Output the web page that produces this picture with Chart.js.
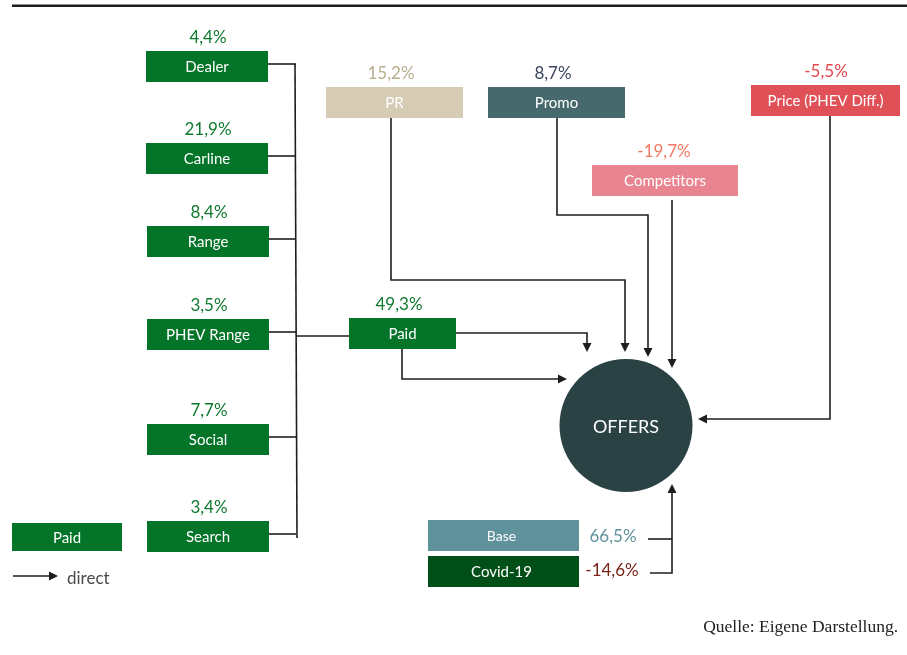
<!DOCTYPE html>
<html>
<head>
<meta charset="utf-8">
<script src="https://cdn.jsdelivr.net/npm/chart.js@4/dist/chart.umd.min.js"></script>
<style>
html,body{margin:0;padding:0;background:#fff;}
#wrap{width:907px;height:655px;position:relative;}
</style>
</head>
<body>
<div id="wrap"><canvas id="c" width="907" height="655"></canvas></div>
<script>
// ---- data ----
const channelNames = ['Dealer', 'Carline', 'Range', 'PHEV Range', 'Social', 'Search'];
const channelValues = [4.4, 21.9, 8.4, 3.5, 7.7, 3.4];
const driverNames = ['Paid', 'PR', 'Promo', 'Competitors', 'Price (PHEV Diff.)'];
const driverValues = [49.3, 15.2, 8.7, -19.7, -5.5];
const baseNames = ['Base', 'Covid-19'];
const baseValues = [66.5, -14.6];
const targetName = 'OFFERS';
const legendBoxLabel = 'Paid';
const legendArrowLabel = 'direct';
const sourceText = 'Quelle: Eigene Darstellung.';

// ---- layout (positions / sizes, in canvas units) ----
const channelBoxes = [
  {x: 146, y: 51}, {x: 146, y: 143}, {x: 147, y: 226},
  {x: 147, y: 319}, {x: 147, y: 424}, {x: 147, y: 521}
];
const channelW = 122, boxH = 31;
const driverBoxes = [
  {x: 349, y: 318, w: 107, lx: 399},
  {x: 326, y: 87, w: 137, lx: 391},
  {x: 488, y: 87, w: 137, lx: 553},
  {x: 592, y: 165, w: 146, lx: 664},
  {x: 751, y: 85, w: 149, lx: 826}
];
const baseBoxes = [{x: 428, y: 520, w: 151, vx: 613, vy: 537}, {x: 428, y: 556, w: 151, vx: 612, vy: 571}];
const circle = {x: 626, y: 425.5, r: 66.5};

// ---- styles ----
const GREEN = '#037428', GREEN_TXT = '#0f7a2f';
const driverFill = [GREEN, '#d6cbb5', '#45696d', '#e98590', '#e05057'];
const driverTxt = [GREEN_TXT, '#b8ad8c', '#3c475f', '#f07a62', '#e5464f'];
const baseFill = ['#5f929b', '#004f18'];
const baseTxt = ['#5f929b', '#7a2419'];
const LINE = '#1e1e1e';
const FONT = 'Lato, "Open Sans", sans-serif';

const fmt = v => v.toFixed(1).replace('.', ',') + '%';

const diagramPlugin = {
  id: 'diagram',
  afterDraw(chart) {
    const ctx = chart.ctx;
    const xs = chart.scales.x, ys = chart.scales.y;
    const X = v => xs.getPixelForValue(v);
    const Y = v => ys.getPixelForValue(v);
    const rect = (x, y, w, h, fill) => {
      ctx.fillStyle = fill;
      ctx.fillRect(X(x), Y(y), X(x + w) - X(x), Y(y + h) - Y(y));
    };
    const text = (t, x, y, color, size, font, weight) => {
      ctx.fillStyle = color;
      ctx.font = (weight || 'normal') + ' ' + size + 'px ' + (font || FONT);
      ctx.textAlign = 'center';
      ctx.textBaseline = 'middle';
      ctx.fillText(t, X(x), Y(y));
    };
    const poly = (pts, lw) => {
      ctx.strokeStyle = LINE;
      ctx.lineWidth = lw || 1.6;
      ctx.lineJoin = 'miter';
      ctx.beginPath();
      pts.forEach((p, i) => i ? ctx.lineTo(X(p[0]), Y(p[1])) : ctx.moveTo(X(p[0]), Y(p[1])));
      ctx.stroke();
    };
    const arrow = (pts) => {
      const n = pts.length;
      const tip = pts[n - 1], prev = pts[n - 2];
      const ang = Math.atan2(Y(tip[1]) - Y(prev[1]), X(tip[0]) - X(prev[0]));
      const L = 9, W = 4.5;
      const tx = X(tip[0]), ty = Y(tip[1]);
      const bx = tx - L * Math.cos(ang), by = ty - L * Math.sin(ang);
      const shaft = pts.slice(0, n - 1).concat([[xs.getValueForPixel(bx), ys.getValueForPixel(by)]]);
      poly(shaft);
      ctx.fillStyle = LINE;
      ctx.beginPath();
      ctx.moveTo(tx, ty);
      ctx.lineTo(bx + W * Math.sin(ang), by - W * Math.cos(ang));
      ctx.lineTo(bx - W * Math.sin(ang), by + W * Math.cos(ang));
      ctx.closePath();
      ctx.fill();
    };

    ctx.save();
    // top rule
    poly([[12, 5.7], [907, 5.7]], 2.6);

    // channel connectors
    const busX = 296;
    channelBoxes.forEach(b => poly([[b.x + channelW, b.y + 13], [busX, b.y + 13]]));
    poly([[busX - 1, channelBoxes[0].y + 13], [busX + 1, channelBoxes[5].y + 17]]);
    poly([[busX, channelBoxes[3].y + 17], [driverBoxes[0].x, channelBoxes[3].y + 17]]);

    // channel boxes
    channelNames.forEach((n, i) => {
      const b = channelBoxes[i];
      rect(b.x, b.y, channelW, boxH, GREEN);
      text(n, b.x + channelW / 2, b.y + boxH / 2 + 1, '#fff', 15);
      text(fmt(channelValues[i]), b.x + channelW / 2 + 1, b.y - 13.5, GREEN_TXT, 17);
    });

    // flows to OFFERS
    arrow([[456, 333], [587, 333], [587, 352]]);
    arrow([[402, 349], [402, 379], [567, 379]]);
    arrow([[391, 118], [391, 280], [625, 280], [625, 352]]);
    arrow([[557, 118], [557, 215], [648, 215], [648, 357]]);
    arrow([[672, 200], [672, 368]]);
    arrow([[830, 116], [830, 419], [698, 419]]);
    poly([[648, 539], [672, 539]]);
    arrow([[650, 573], [672, 573], [672, 484]]);

    // driver boxes
    driverNames.forEach((n, i) => {
      const b = driverBoxes[i];
      rect(b.x, b.y, b.w, boxH, driverFill[i]);
      text(n, b.x + b.w / 2, b.y + boxH / 2 + 1, '#fff', 15);
      text(fmt(driverValues[i]), b.lx, b.y - 13, driverTxt[i], 17);
    });

    // base boxes
    baseNames.forEach((n, i) => {
      const b = baseBoxes[i];
      rect(b.x, b.y, b.w, boxH, baseFill[i]);
      text(n, b.x + b.w / 2 - 2, b.y + boxH / 2 + 1, '#fff', i === 0 ? 14 : 15);
      text(fmt(baseValues[i]), b.vx, b.vy, baseTxt[i], 17);
    });

    // legend
    rect(12, 523, 110, 28, GREEN);
    text(legendBoxLabel, 67, 538, '#fff', 15);
    arrow([[13, 576], [58, 576]]);
    ctx.textAlign = 'left';
    ctx.fillStyle = '#4a4a4a';
    ctx.font = '17px ' + FONT;
    ctx.textBaseline = 'middle';
    ctx.fillText(legendArrowLabel, X(67), Y(579));

    // source
    ctx.textAlign = 'right';
    ctx.fillStyle = '#222';
    ctx.font = '17.5px "Liberation Serif", "DejaVu Serif", serif';
    ctx.fillText(sourceText, X(898), Y(627));

    // OFFERS label (circle drawn by the bubble dataset)
    text(targetName, circle.x, circle.y + 1.5, '#fff', 18);
    ctx.restore();
  }
};

new Chart(document.getElementById('c'), {
  type: 'bubble',
  data: {
    datasets: [{
      label: targetName,
      data: [{x: circle.x, y: circle.y, r: circle.r}],
      backgroundColor: '#2a4244',
      borderWidth: 0,
      hoverRadius: 0,
      clip: false
    }]
  },
  options: {
    responsive: false,
    animation: false,
    events: [],
    layout: {padding: 0, autoPadding: false},
    plugins: {legend: {display: false}, tooltip: {enabled: false}},
    scales: {
      x: {type: 'linear', min: 0, max: 907, display: false},
      y: {type: 'linear', min: 0, max: 655, reverse: true, display: false}
    }
  },
  plugins: [diagramPlugin]
});
</script>
</body>
</html>
